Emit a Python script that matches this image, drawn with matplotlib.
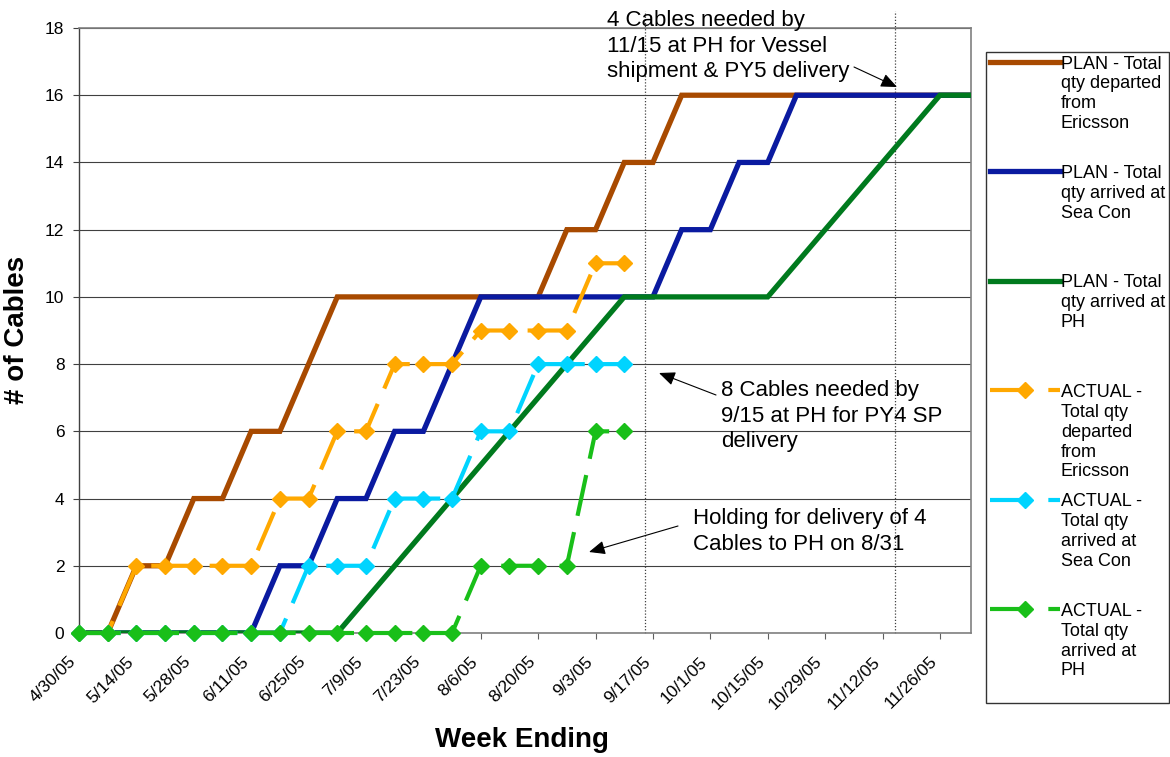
import matplotlib
matplotlib.use("Agg")
import matplotlib.pyplot as plt
import matplotlib.transforms as mtransforms
import pandas as pd

# ---------------- data ----------------
week_ending = ["2005-04-30", "2005-05-07", "2005-05-14", "2005-05-21", "2005-05-28",
               "2005-06-04", "2005-06-11", "2005-06-18", "2005-06-25", "2005-07-02",
               "2005-07-09", "2005-07-16", "2005-07-23", "2005-07-30", "2005-08-06",
               "2005-08-13", "2005-08-20", "2005-08-27", "2005-09-03", "2005-09-10",
               "2005-09-17", "2005-09-24", "2005-10-01", "2005-10-08", "2005-10-15",
               "2005-10-22", "2005-10-29", "2005-11-05", "2005-11-12", "2005-11-19",
               "2005-11-26", "2005-12-03"]

tick_dates = ["2005-04-30", "2005-05-14", "2005-05-28", "2005-06-11", "2005-06-25",
              "2005-07-09", "2005-07-23", "2005-08-06", "2005-08-20", "2005-09-03",
              "2005-09-17", "2005-10-01", "2005-10-15", "2005-10-29", "2005-11-12",
              "2005-11-26"]
tick_labels = ["4/30/05", "5/14/05", "5/28/05", "6/11/05", "6/25/05", "7/9/05",
               "7/23/05", "8/6/05", "8/20/05", "9/3/05", "9/17/05", "10/1/05",
               "10/15/05", "10/29/05", "11/12/05", "11/26/05"]

plan_departed = [0, 0, 2, 2, 4, 4, 6, 6, 8, 10, 10, 10, 10, 10, 10, 10, 10, 12, 12, 14,
                 14, 16, 16, 16, 16, 16, 16, 16, 16, 16, 16, 16]
plan_seacon = [0, 0, 0, 0, 0, 0, 0, 2, 2, 4, 4, 6, 6, 8, 10, 10, 10, 10, 10, 10,
               10, 12, 12, 14, 14, 16, 16, 16, 16, 16, 16, 16]
plan_ph = [0, 0, 0, 0, 0, 0, 0, 0, 0, 0, 1, 2, 3, 4, 5, 6, 7, 8, 9, 10,
           10, 10, 10, 10, 10, 11, 12, 13, 14, 15, 16, 16]

actual_departed = [0, 0, 2, 2, 2, 2, 2, 4, 4, 6, 6, 8, 8, 8, 9, 9, 9, 9, 11, 11]
actual_seacon = [0, 0, 0, 0, 0, 0, 0, 0, 2, 2, 2, 4, 4, 4, 6, 6, 8, 8, 8, 8]
actual_ph = [0, 0, 0, 0, 0, 0, 0, 0, 0, 0, 0, 0, 0, 0, 2, 2, 2, 2, 6, 6]

plan_labels = ["PLAN - Total\nqty departed\nfrom\nEricsson",
               "PLAN - Total\nqty arrived at\nSea Con",
               "PLAN - Total\nqty arrived at\nPH"]
actual_labels = ["ACTUAL -\nTotal qty\ndeparted\nfrom\nEricsson",
                 "ACTUAL -\nTotal qty\narrived at\nSea Con",
                 "ACTUAL -\nTotal qty\narrived at\nPH"]

need_dates = ["2005-09-15", "2005-11-15"]

# ---------------- style ----------------
plt.rcParams['font.family'] = ['Liberation Sans', 'DejaVu Sans']
W, H = 1170, 757
fig = plt.figure(figsize=(W / 100, H / 100), dpi=100)
fig.patch.set_facecolor("white")
L, R, T, B = 79, 971, 28, 633
ax = fig.add_axes([L / W, (H - B) / H, (R - L) / W, (B - T) / H])

dates = pd.to_datetime(week_ending)
n_act = len(actual_departed)

plan_colors = ["#A84A00", "#0A1AA0", "#007A1E"]
actual_colors = ["#FFA800", "#00D4FF", "#19BF19"]

handles = []
for vals, col in zip([plan_departed, plan_seacon, plan_ph], plan_colors):
    h, = ax.plot(dates, vals, color=col, lw=3.8, solid_joinstyle='miter', zorder=3)
    handles.append(h)
for vals, col in zip([actual_departed, actual_seacon, actual_ph], actual_colors):
    h, = ax.plot(dates[:n_act], vals, color=col, lw=3.0, linestyle=(0, (10, 4)),
                 marker='D', markersize=8, markerfacecolor=col, markeredgecolor=col,
                 zorder=4, clip_on=False)
    handles.append(h)

# vertical "needed by" markers
for d in pd.to_datetime(need_dates):
    ax.plot([d, d], [0, 18.5], color="#404040", lw=0.9, linestyle=(0, (1, 1.5)),
            clip_on=False, zorder=2)

# axes
ax.set_ylim(0, 18)
ax.set_yticks(range(0, 19, 2))
ax.set_xlim(dates[0], dates[-1] + pd.Timedelta(hours=14))
ax.set_xticks(pd.to_datetime(tick_dates))
ax.set_xticklabels(tick_labels, rotation=45, ha='right', va='top', fontsize=12.5)
off = mtransforms.ScaledTranslation(-7 / 100, 0, fig.dpi_scale_trans)
for lab in ax.get_xticklabels():
    lab.set_transform(lab.get_transform() + off)
ax.tick_params(axis='x', length=4, width=0.8, color='#606060', pad=11)
ax.tick_params(axis='y', length=4.5, width=0.8, color='#404040', pad=6, labelsize=12.5)
ax.yaxis.grid(True, color='#404040', lw=0.8, zorder=0)
ax.set_axisbelow(True)
for side in ['top', 'right', 'bottom']:
    ax.spines[side].set_color('#808080')
    ax.spines[side].set_linewidth(1.2)
ax.spines['left'].set_color('#404040')
ax.spines['left'].set_linewidth(1.0)

fig.text(17 / W, 1 - 330 / H, "# of Cables", rotation=90, ha='center', va='center',
         fontsize=20, fontweight='bold')
fig.text(522 / W, 1 - 747 / H, "Week Ending", ha='center', va='baseline',
         fontsize=20, fontweight='bold')

# annotations (free-standing shapes, axes-fraction coordinates)
def fx(px):
    return (px - L) / (R - L)

def fy(py):
    return (B - py) / (B - T)

arrow = dict(arrowstyle="-|>,head_length=0.7,head_width=0.3", color="black",
             lw=0.8, shrinkA=0, shrinkB=0, mutation_scale=14)
notes = [
    ("4 Cables needed by\n11/15 at PH for Vessel\nshipment & PY5 delivery",
     (607, 10), (854, 67), (897, 87)),
    ("8 Cables needed by\n9/15 at PH for PY4 SP\ndelivery",
     (721, 380), (716, 395), (659, 373)),
    ("Holding for delivery of 4\nCables to PH on 8/31",
     (693, 508), (678, 526), (589, 552)),
]
for txt, tpos, tail, head in notes:
    ax.text(fx(tpos[0]), fy(tpos[1]), txt, transform=ax.transAxes, ha='left', va='top',
            fontsize=16, linespacing=1.29, clip_on=False, zorder=6)
    ax.annotate("", xy=(fx(head[0]), fy(head[1])), xycoords='axes fraction',
                xytext=(fx(tail[0]), fy(tail[1])), textcoords='axes fraction',
                arrowprops=arrow, annotation_clip=False, zorder=6)

# legend
labels = plan_labels + actual_labels
padded = [lab + "\n" * (5 - lab.count("\n") - 1) for lab in labels]
leg = fig.legend(handles, padded, loc='upper left',
                 bbox_to_anchor=(986 / W, 1 - 52 / H), bbox_transform=fig.transFigure,
                 fontsize=13, frameon=True, fancybox=False, edgecolor='black',
                 borderpad=0.2, handlelength=3.9, handletextpad=0.05,
                 labelspacing=0.72, borderaxespad=0, numpoints=1)
leg.get_frame().set_linewidth(1.0)
for t in leg.get_texts():
    t.set_linespacing(1.22)
for col in leg._legend_handle_box.get_children():
    for hp in col.get_children():
        hp.align = "top"

fig.savefig("out.png", dpi=100, facecolor="white")
